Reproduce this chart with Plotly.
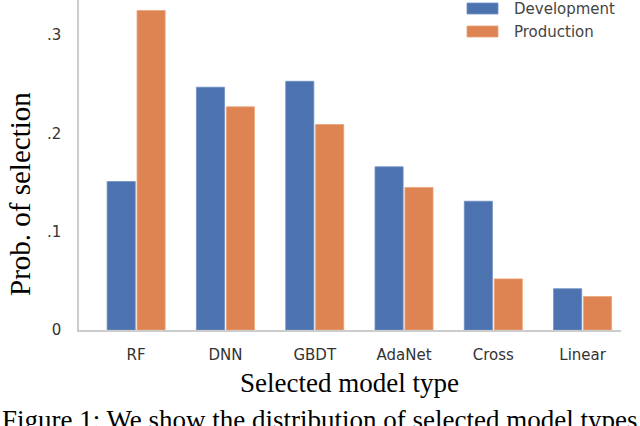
import plotly.graph_objects as go

categories = ["RF", "DNN", "GBDT", "AdaNet", "Cross", "Linear"]
development = [0.151, 0.247, 0.253, 0.166, 0.131, 0.042]
production = [0.325, 0.227, 0.209, 0.145, 0.052, 0.034]
series_names = ["Development", "Production"]
y_tickvals = [0, 0.1, 0.2, 0.3]
y_ticktext = ["0", ".1", ".2", ".3"]

colors = ["#4c72b0", "#dd8452"]
edge = ["#6f8fc4", "#eaa27a"]

W, H = 640, 426
L, R, T, B = 79, 19, 0, 96
pw, ph = W - L - R, H - T - B

def px(x):
    return (x - L) / pw

def py(y):
    return (H - B - y) / ph

fig = go.Figure()
for name, vals, c, e in zip(series_names, [development, production], colors, edge):
    fig.add_trace(go.Bar(x=categories, y=vals, name=name, marker_color=c,
                         marker_line=dict(color=e, width=0.8), showlegend=False))

sans = "DejaVu Sans"
serif = "Liberation Serif"

fig.update_layout(
    width=W, height=H,
    margin=dict(l=L, r=R, t=T, b=B, pad=0),
    paper_bgcolor="white", plot_bgcolor="white",
    barmode="group", bargap=0.33, bargroupgap=0.06,
    xaxis=dict(range=[-0.64, 5.43], showline=True, linecolor="#cccccc", linewidth=1.5,
               showgrid=False, zeroline=False, ticks="outside", ticklen=10,
               tickcolor="rgba(0,0,0,0)", tickfont=dict(family=sans, size=15, color="#333333")),
    yaxis=dict(range=[0, 0.3357], showline=True, linecolor="#cccccc", linewidth=1.5,
               showgrid=False, zeroline=False, tickvals=y_tickvals, ticktext=y_ticktext,
               ticks="outside", ticklen=13, tickcolor="rgba(0,0,0,0)",
               tickfont=dict(family=sans, size=15, color="#333333")),
)

shapes = []
ann = []
for i, (name, c, e) in enumerate(zip(series_names, colors, edge)):
    y0, y1 = 3 + 23 * i, 14 + 23 * i
    shapes.append(dict(type="rect", xref="paper", yref="paper",
                       x0=px(467), x1=px(498), y0=py(y1), y1=py(y0),
                       fillcolor=c, line=dict(color=e, width=0.8)))
    ann.append(dict(text=name, xref="paper", yref="paper", x=px(512), y=py((y0 + y1) / 2),
                    xanchor="left", yanchor="middle", showarrow=False,
                    font=dict(family=sans, size=15, color="#444444")))

ann.append(dict(text="Selected model type", xref="paper", yref="paper",
                x=px(349), y=py(383), xanchor="center", yanchor="middle", showarrow=False,
                font=dict(family=serif, size=27, color="black")))
ann.append(dict(text="Prob. of selection", xref="paper", yref="paper", textangle=-90,
                x=px(20), y=py(194), xanchor="center", yanchor="middle", showarrow=False,
                font=dict(family=serif, size=29, color="black")))
ann.append(dict(text="Figure 1: We show the distribution of selected model types",
                xref="paper", yref="paper", x=px(0), y=py(420), xanchor="left",
                yanchor="middle", showarrow=False,
                font=dict(family=serif, size=27, color="black")))

fig.update_layout(shapes=shapes, annotations=ann)
fig.write_html("out.html", config={"displayModeBar": False},
               post_script="document.body.style.margin='0';document.body.style.overflow='hidden';")
